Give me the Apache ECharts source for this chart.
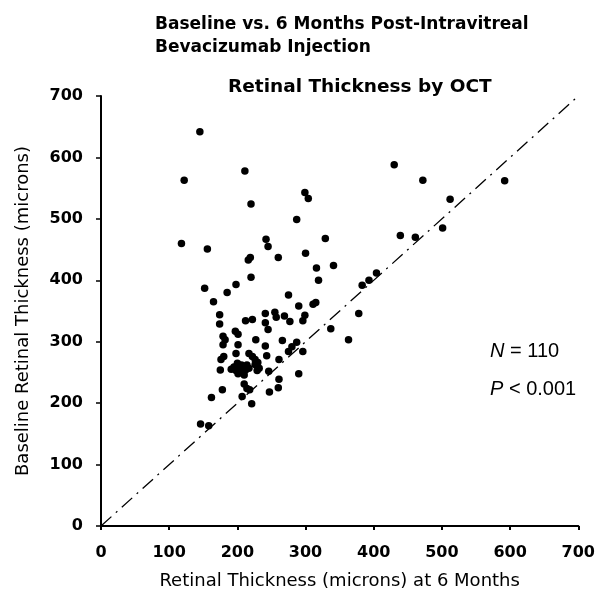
<!DOCTYPE html>
<html>
<head>
<meta charset="utf-8">
<script src="https://cdn.jsdelivr.net/npm/echarts@6/dist/echarts.min.js"></script>
<style>html,body{margin:0;padding:0;background:#fff;}#c{width:598px;height:598px;}</style>
</head>
<body>
<div id="c"></div>
<script>
// Retinal thickness at 6 months (x) vs baseline (y), microns
const sixMonths = [145,211,122,220,287,242,245,118,156,216,219,260,299,304,329,300,341,316,319,220,198,152,185,165,275,290,311,315,430,472,512,501,439,461,592,404,393,383,378,299,296,337,363,296,290,174,174,212,222,241,255,257,269,241,245,277,197,201,179,182,179,201,227,241,266,275,280,287,180,176,198,217,222,226,230,243,175,191,195,200,204,208,212,198,210,217,226,232,229,246,261,210,214,178,162,207,221,247,261,146,158,218,260,201,206,214];
const baseline  = [642,578,563,524,499,467,455,460,451,433,437,437,543,533,468,444,424,420,400,405,393,387,380,365,376,358,361,364,588,563,532,485,473,470,562,412,400,392,346,343,334,321,303,284,248,344,329,334,336,346,348,340,342,331,320,333,317,312,309,303,295,295,303,293,302,284,292,299,276,271,281,281,276,271,266,277,254,255,259,265,259,251,254,253,246,257,263,257,253,252,271,231,224,222,209,211,199,218,239,166,163,222,225,248,262,262];
const refLine = [[0,0],[700,700]];

const pts = sixMonths.map((x,i)=>[x, baseline[i]]);
const chart = echarts.init(document.getElementById('c'));
const tickFont = {fontFamily:'DejaVu Sans', fontWeight:'bold', fontSize:16, color:'#000'};
const richNP = {i:{fontStyle:'italic', fontFamily:'Liberation Sans', fontSize:20, fill:'#000'}, n:{fontFamily:'Liberation Sans', fontSize:20, fill:'#000'}};
chart.setOption({
  animation:false,
  backgroundColor:'#fff',
  title:[
    {text:'Baseline vs. 6 Months Post-Intravitreal\nBevacizumab Injection', left:150, top:8,
     textStyle:{fontFamily:'DejaVu Sans', fontWeight:'bold', fontSize:17, lineHeight:23, color:'#000'}},
    {text:'Retinal Thickness by OCT', left:223, top:73,
     textStyle:{fontFamily:'DejaVu Sans', fontWeight:'bold', fontSize:18.5, color:'#000'}}
  ],
  graphic:[
    {type:'text', left:490, top:341, style:{rich:richNP, text:'{i|N}{n| = 110}'}},
    {type:'text', left:490, top:379, style:{rich:richNP, text:'{i|P}{n| < 0.001}'}}
  ],
  grid:{left:101, right:17, top:96, bottom:72, containLabel:false},
  xAxis:{type:'value', min:0, max:700, interval:100,
    name:'Retinal Thickness (microns) at 6 Months', nameLocation:'middle', nameGap:46,
    nameTextStyle:{fontFamily:'DejaVu Sans', fontSize:18, color:'#000'},
    axisLine:{show:true, lineStyle:{color:'#000', width:2}},
    axisTick:{show:true, inside:false, length:4, lineStyle:{color:'#000', width:2}},
    axisLabel:Object.assign({margin:19, formatter:v=>String(v)}, tickFont),
    splitLine:{show:false}},
  yAxis:{type:'value', min:0, max:700, interval:100,
    name:'Baseline Retinal Thickness (microns)', nameLocation:'middle', nameGap:69, nameRotate:90,
    nameTextStyle:{fontFamily:'DejaVu Sans', fontSize:18, color:'#000'},
    axisLine:{show:true, lineStyle:{color:'#000', width:2}},
    axisTick:{show:true, inside:false, length:5, lineStyle:{color:'#000', width:1.5}},
    axisLabel:Object.assign({margin:18}, tickFont),
    splitLine:{show:false}},
  series:[
    {type:'line', data:refLine, symbol:'none', silent:true, clip:false,
     lineStyle:{color:'#000', width:1.3, type:[14,6,2,6]}},
    {type:'scatter', data:pts, symbol:'circle', symbolSize:7.5,
     itemStyle:{color:'#000', opacity:1}}
  ]
});
</script>
</body>
</html>
